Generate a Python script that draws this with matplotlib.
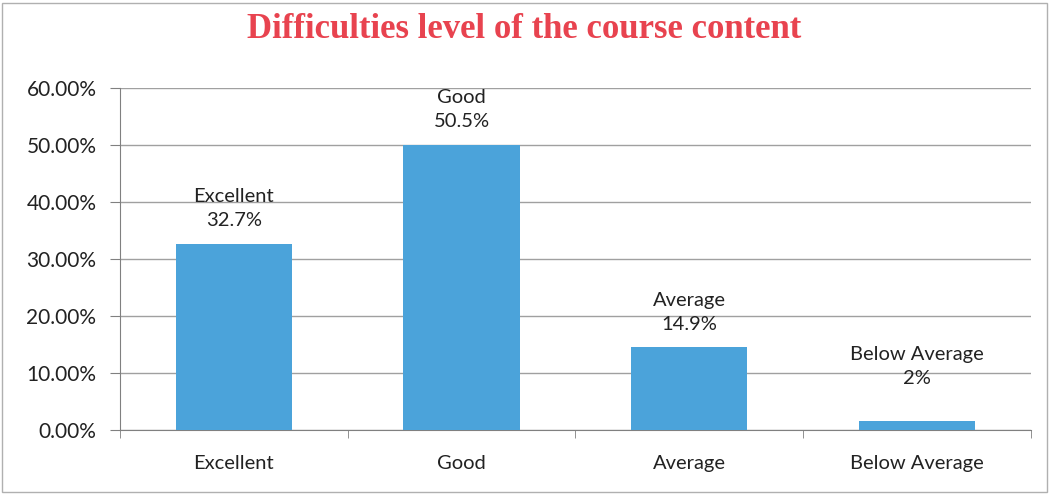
import numpy as np
import matplotlib.pyplot as plt
from matplotlib.patches import Rectangle
from matplotlib.ticker import PercentFormatter

categories = ['Excellent', 'Good', 'Average', 'Below Average']
values = [0.327, 0.50, 0.145, 0.015]   # bar heights as drawn
value_labels = ['32.7%', '50.5%', '14.9%', '2%']

plt.rcParams['font.family'] = ['Lato', 'DejaVu Sans']

fig = plt.figure(figsize=(10.49, 4.94), dpi=100)
fig.patch.set_facecolor('white')
ax = fig.add_axes([0.1144, 0.1296, 0.868, 0.6923])

x = np.arange(len(categories))
ax.bar(x, values, width=0.51, color='#4BA3DA', zorder=3)

# labels above each bar (small bars get their label pushed up a bit, like Excel)
for xi, v, cat, lab in zip(x, values, categories, value_labels):
    y = max(v + 0.026, 0.075)
    ax.text(xi, y, cat + '\n' + lab, ha='center', va='bottom',
            fontsize=14.5, color='#222222', linespacing=1.5)

ax.set_xlim(-0.5, len(categories) - 0.5)
ax.set_ylim(0, 0.6)
ax.set_yticks(np.arange(0, 0.61, 0.1))
ax.yaxis.set_major_formatter(PercentFormatter(1.0, decimals=2))
ax.grid(axis='y', color='#a0a0a0', linewidth=1, zorder=0)

ax.set_xticks(x)
ax.set_xticklabels(categories)
ax.set_xticks(np.arange(-0.5, len(categories)), minor=True)
ax.tick_params(axis='x', which='major', length=0, pad=18, labelsize=14.5, labelcolor='#222222')
ax.tick_params(axis='x', which='minor', length=6, color='#808080', direction='out')
ax.tick_params(axis='y', length=7, color='#808080', pad=10, labelsize=15, labelcolor='#222222')

for s in ['top', 'right']:
    ax.spines[s].set_visible(False)
ax.spines['left'].set_color('#808080')
ax.spines['bottom'].set_color('#808080')

fig.text(0.5, 0.94, 'Difficulties level of the course content', ha='center', va='center',
         fontsize=25, fontweight='bold', color='#E8434F', family='Liberation Serif')

# outer frame
fig.patches.append(Rectangle((0.002, 0.004), 0.996, 0.99, transform=fig.transFigure,
                             fill=False, edgecolor='#b0b0b0', linewidth=1))

plt.savefig('out.png', dpi=100)
